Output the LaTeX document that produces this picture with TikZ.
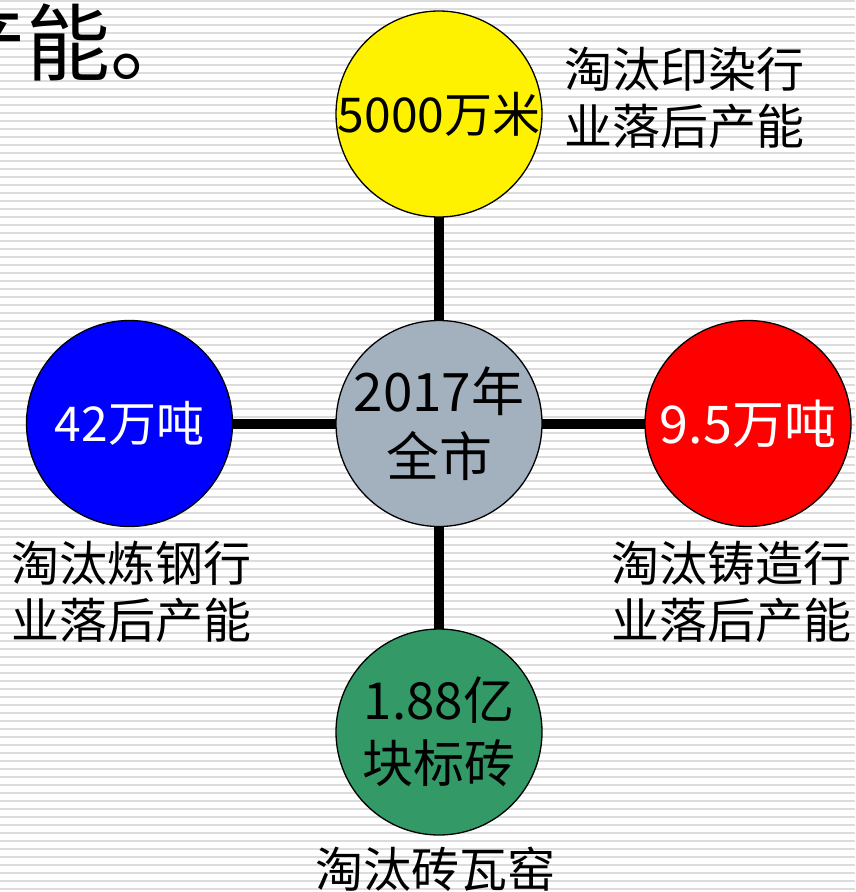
\documentclass[tikz,border=0pt]{standalone}
\usepackage{fontspec}
\setmainfont{Noto Sans CJK SC}
\usetikzlibrary{backgrounds}
\definecolor{cgray}{HTML}{A3B1BF}
\definecolor{cgreen}{HTML}{339966}
\definecolor{gridc}{HTML}{DCDCDC}
\begin{document}
\begin{tikzpicture}[x=1pt,y=-1pt,
  bub/.style={circle, draw=black, line width=1.3pt, minimum size=206pt, inner sep=0pt, align=center},
  link/.style={line width=10pt, black},
  gridline/.style={line width=2pt, gridc},
  lbl/.style={align=center, inner sep=0pt, font=\fontsize{48}{57}\selectfont},
]
\useasboundingbox (0,0) rectangle (855,892);
\node[bub, fill=cgray, font=\fontsize{53}{65}\selectfont] (c) at (439,423.5) {\makebox[0pt]{2017年}\\\makebox[0pt]{全市}};
\node[bub, fill=yellow, font=\fontsize{48}{57}\selectfont] (t) at (439,114) {\makebox[0pt]{5000万米}};
\node[bub, fill=blue, text=white, font=\fontsize{48}{57}\selectfont] (l) at (129.5,423.5) {\makebox[0pt]{42万吨}};
\node[bub, fill=red, text=white, font=\fontsize{52}{60}\selectfont] (r) at (748,423.5) {\makebox[0pt]{9.5万吨}};
\node[bub, fill=cgreen, font=\fontsize{51}{63}\selectfont] (b) at (439,732) {\makebox[0pt]{1.88亿}\\\makebox[0pt]{块标砖}};
\node[lbl] (lt) at (684,97.5) {淘汰印染行\\业落后产能};
\node[lbl] (ll) at (132,592) {淘汰炼钢行\\业落后产能};
\node[lbl] (lr) at (731.5,592) {淘汰铸造行\\业落后产能};
\node[lbl] (lb) at (435,869) {淘汰砖瓦窑};
\node[font=\fontsize{84}{84}\selectfont, anchor=west, inner sep=0pt] (title) at (-58,43) {产能。};
\begin{pgfonlayer}{background}
  \fill[white] (0,0) rectangle (855,892);
  \foreach \k in {0,...,111} \draw[gridline] (0,1+8*\k) -- (855,1+8*\k);
  \draw[link] (c.center) -- (t.center);
  \draw[link] (c.center) -- (l.center);
  \draw[link] (c.center) -- (r.center);
  \draw[link] (c.center) -- (b.center);
\end{pgfonlayer}
\end{tikzpicture}
\end{document}
